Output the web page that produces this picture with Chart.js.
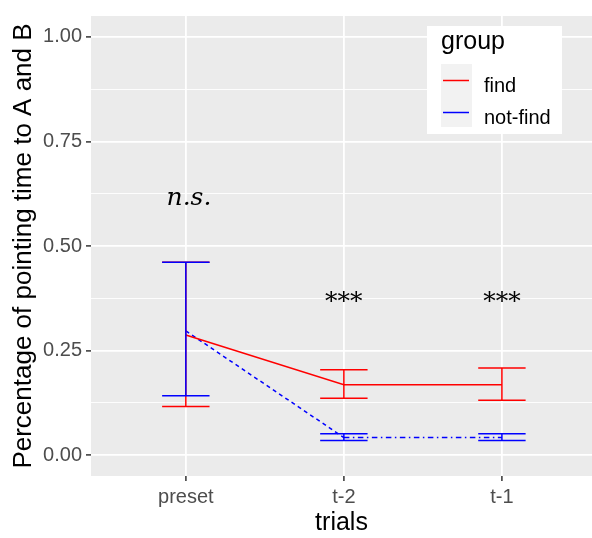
<!DOCTYPE html>
<html>
<head>
<meta charset="utf-8">
<script src="https://cdn.jsdelivr.net/npm/chart.js@4/dist/chart.umd.min.js"></script>
<style>
html, body { margin: 0; padding: 0; background: #fff; overflow: hidden; }
#wrap { width: 592px; height: 538px; }
</style>
</head>
<body>
<div id="wrap"><canvas id="c" width="592" height="538"></canvas></div>
<script>
// data
const categories = ["preset", "t-2", "t-1"];
const seriesNames = ["find", "not-find"];
const findMean = [0.287, 0.168, 0.168];
const findLow = [0.116, 0.136, 0.131];
const findHigh = [0.461, 0.204, 0.208];
const notFindMean = [0.297, 0.042, 0.042];
const notFindLow = [0.142, 0.035, 0.035];
const notFindHigh = [0.461, 0.051, 0.051];
const yTickValues = [0, 0.25, 0.5, 0.75, 1];
const yTickLabels = ["0.00", "0.25", "0.50", "0.75", "1.00"];
const yMinorValues = [0.125, 0.375, 0.625, 0.875];
const annoText = ["n.s.", "***", "***"];
const annoX = [1.02, 2, 3];
const annoY = [0.597, 0.349, 0.349];

const colors = ["#FF0000", "#0000FF"];
const SANS = "'Liberation Sans', Arial, sans-serif";
const errors = [
    { low: findLow, high: findHigh },
    { low: notFindLow, high: notFindHigh }
];

const panelBg = {
    id: "panelBg",
    beforeDraw(chart) {
        const { ctx, chartArea: a } = chart;
        ctx.save();
        ctx.fillStyle = "#EBEBEB";
        ctx.fillRect(a.left, a.top, a.right - a.left, a.bottom - a.top);
        ctx.restore();
    }
};

const errorBars = {
    id: "errorBars",
    afterDatasetsDraw(chart) {
        const { ctx, chartArea: a } = chart;
        const xs = chart.scales.x, ys = chart.scales.y;
        ctx.save();
        ctx.beginPath();
        ctx.rect(a.left, a.top, a.right - a.left, a.bottom - a.top);
        ctx.clip();
        ctx.lineWidth = 1.5;
        errors.forEach((e, i) => {
            ctx.strokeStyle = colors[i];
            categories.forEach((c, j) => {
                const x = xs.getPixelForValue(j + 1);
                const half = xs.getPixelForValue(j + 1.15) - x;
                const yl = ys.getPixelForValue(e.low[j]);
                const yh = ys.getPixelForValue(e.high[j]);
                ctx.beginPath();
                ctx.moveTo(x, yl); ctx.lineTo(x, yh);
                ctx.moveTo(x - half, yl); ctx.lineTo(x + half, yl);
                ctx.moveTo(x - half, yh); ctx.lineTo(x + half, yh);
                ctx.stroke();
            });
        });
        // significance labels
        ctx.fillStyle = "#000";
        ctx.textAlign = "center";
        ctx.textBaseline = "alphabetic";
        annoText.forEach((t, i) => {
            ctx.font = (t === "n.s." ? "italic " : "") + "25px 'DejaVu Serif', serif";
            ctx.fillText(t, xs.getPixelForValue(annoX[i]), ys.getPixelForValue(annoY[i]));
        });
        ctx.restore();
    }
};

const groupLegend = {
    id: "groupLegend",
    afterDraw(chart) {
        const ctx = chart.ctx;
        ctx.save();
        ctx.fillStyle = "#FFFFFF";
        ctx.fillRect(427, 26, 135, 108);
        ctx.fillStyle = "#000";
        ctx.font = "25px " + SANS;
        ctx.textAlign = "left";
        ctx.textBaseline = "alphabetic";
        ctx.fillText("group", 441, 49);
        ctx.fillStyle = "#F2F2F2";
        ctx.fillRect(441, 64, 31, 63);
        ctx.lineWidth = 1.5;
        seriesNames.forEach((name, i) => {
            const y = 80.5 + i * 32;
            ctx.strokeStyle = colors[i];
            ctx.beginPath();
            ctx.moveTo(443, y); ctx.lineTo(469, y);
            ctx.stroke();
            ctx.fillStyle = "#000";
            ctx.font = "20px " + SANS;
            ctx.fillText(name, 484, y + 11);
        });
        ctx.restore();
    }
};

new Chart(document.getElementById("c"), {
    type: "line",
    data: {
        datasets: [
            {
                label: seriesNames[0],
                data: categories.map((c, i) => ({ x: i + 1, y: findMean[i] })),
                borderColor: colors[0],
                borderWidth: 1.5,
                pointRadius: 0,
                tension: 0
            },
            {
                label: seriesNames[1],
                data: categories.map((c, i) => ({ x: i + 1, y: notFindMean[i] })),
                borderColor: colors[1],
                borderWidth: 1.5,
                pointRadius: 0,
                tension: 0,
                segment: {
                    borderDash: ctx => ctx.p0DataIndex === 0 ? [4, 3.5] : [5.5, 3.5, 1.5, 3.5]
                }
            }
        ]
    },
    options: {
        responsive: false,
        animation: false,
        devicePixelRatio: 1,
        layout: { padding: { top: 9, left: 0, right: 0, bottom: 0 } },
        plugins: { legend: { display: false }, tooltip: { enabled: false } },
        scales: {
            x: {
                type: "linear",
                min: 0.4,
                max: 3.57,
                afterBuildTicks: s => { s.ticks = categories.map((c, i) => ({ value: i + 1 })); },
                afterFit: s => { s.height = 62; },
                ticks: {
                    autoSkip: false,
                    maxRotation: 0,
                    padding: 4,
                    color: "#4D4D4D",
                    font: { family: SANS, size: 20 },
                    callback: v => categories[v - 1]
                },
                grid: { color: "#FFFFFF", lineWidth: 1.8, tickColor: "#333333", tickLength: 5, tickWidth: 1.5 },
                border: { display: false },
                title: {
                    display: true,
                    text: "trials",
                    color: "#000",
                    font: { family: SANS, size: 25 },
                    padding: { top: 0, bottom: 0 }
                }
            },
            y: {
                type: "linear",
                min: -0.05,
                max: 1.05,
                afterBuildTicks: s => {
                    s.ticks = yTickValues.concat(yMinorValues).sort((a, b) => a - b).map(v => ({ value: v }));
                },
                afterFit: s => { s.width = 91; },
                ticks: {
                    padding: 4,
                    color: "#4D4D4D",
                    font: { family: SANS, size: 20 },
                    callback: v => {
                        const k = yTickValues.indexOf(v);
                        return k >= 0 ? yTickLabels[k] : "";
                    }
                },
                grid: {
                    color: "#FFFFFF",
                    lineWidth: c => yTickValues.includes(c.tick.value) ? 1.8 : 0.9,
                    tickColor: c => yTickValues.includes(c.tick.value) ? "#333333" : "rgba(0,0,0,0)",
                    tickLength: 5,
                    tickWidth: 1.5
                },
                border: { display: false },
                title: {
                    display: true,
                    text: "Percentage of pointing time to A and B",
                    color: "#000",
                    font: { family: SANS, size: 26 },
                    padding: { top: 8, bottom: 0 }
                }
            }
        }
    },
    plugins: [panelBg, errorBars, groupLegend]
});
</script>
</body>
</html>
